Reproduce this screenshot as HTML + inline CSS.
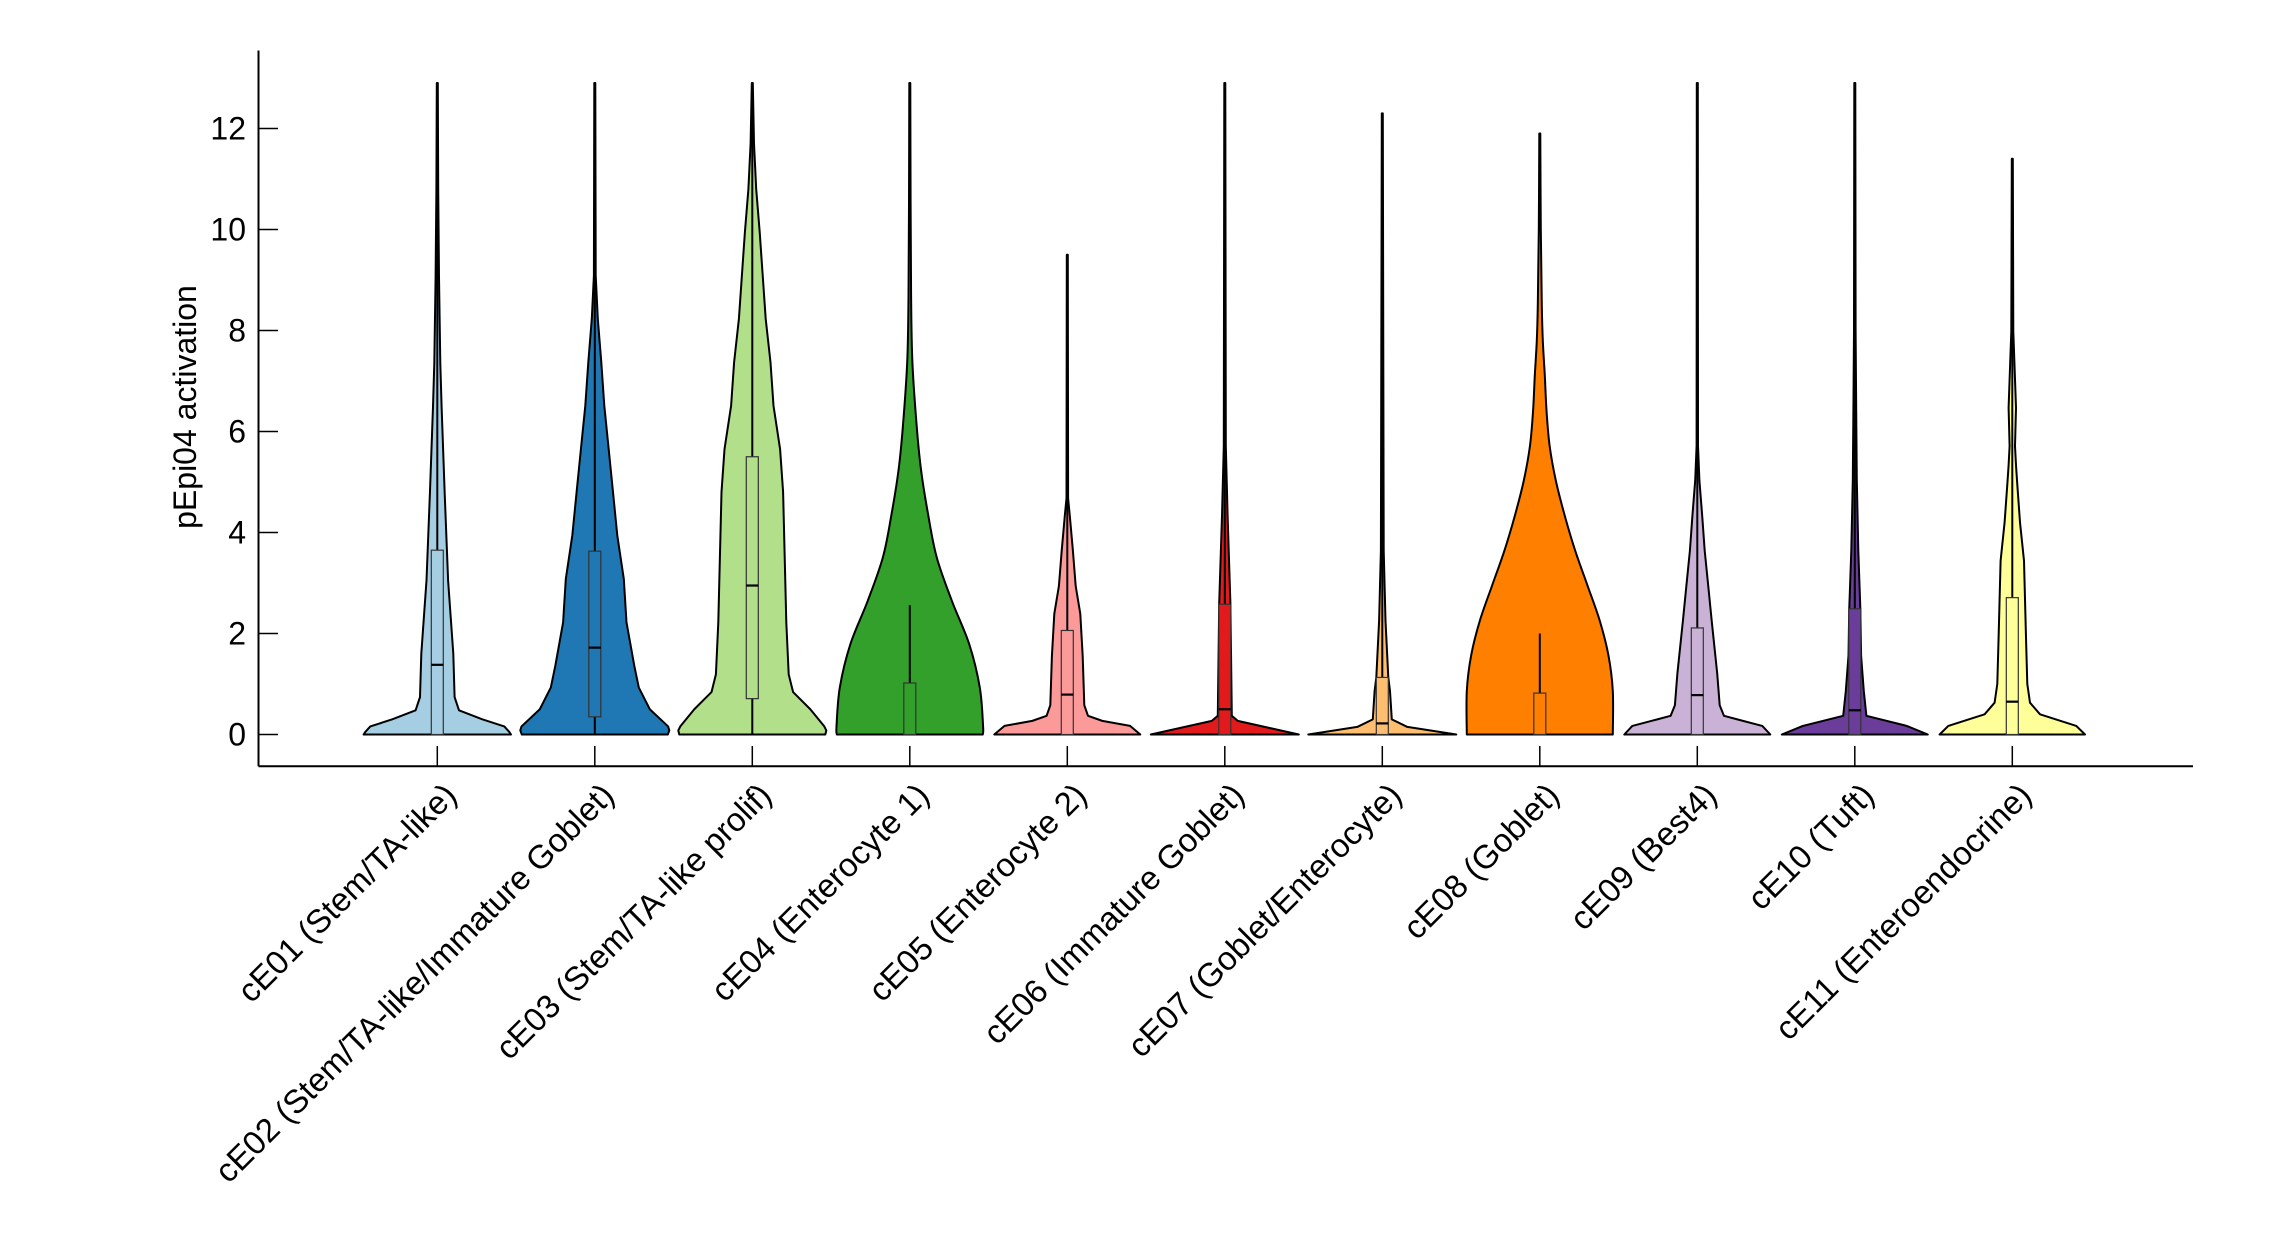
<!DOCTYPE html>
<html><head><meta charset="utf-8"><style>
html,body{margin:0;padding:0;background:#fff;}
svg{display:block;font-family:"Liberation Sans",Arial,sans-serif;}
</style></head><body>
<svg id="s" width="2292" height="1250" viewBox="0 0 2292 1250" xmlns="http://www.w3.org/2000/svg">
<rect width="2292" height="1250" fill="#fff"/>
<g id="v"></g>
<g stroke="#000" stroke-width="2" fill="none">
<line x1="258.5" y1="50.5" x2="258.5" y2="766.3"/>
<line x1="258.5" y1="766.3" x2="2193" y2="766.3"/>
</g>
<g id="ax"></g>
<text x="0" y="0" font-size="32" text-anchor="middle" transform="translate(196,407) rotate(-90)">pEpi04 activation</text>
</svg>
<script>
var NS="http://www.w3.org/2000/svg";
function Y(v){return 734.5-v*50.5;}
var cols=["#a6cee3","#1f78b4","#b2df8a","#33a02c","#fb9a99","#e31a1c","#fdbf6f","#ff7f00","#cab2d6","#6a3d9a","#ffff99"];
var names=["cE01 (Stem/TA-like)","cE02 (Stem/TA-like/Immature Goblet)","cE03 (Stem/TA-like prolif)","cE04 (Enterocyte 1)","cE05 (Enterocyte 2)","cE06 (Immature Goblet)","cE07 (Goblet/Enterocyte)","cE08 (Goblet)","cE09 (Best4)","cE10 (Tuft)","cE11 (Enteroendocrine)"];
var prof=[
[[0,73.7],[0.05,72],[0.16,67],[0.3,45],[0.48,21.7],[0.74,17.3],[1.6,16],[3.05,10.8],[4.77,7.4],[6.49,4.3],[7.35,3],[9.06,1.7],[10.8,0.9],[12.9,0.5]],
[[0,73],[0.08,74.5],[0.16,73.3],[0.5,55],[0.93,44],[1.36,39.5],[2.22,31.7],[3.08,29],[3.94,22.5],[4.8,18.2],[5.65,13.9],[6.51,9.5],[7.37,6.5],[8.23,3],[9.09,0.9],[12.9,0.5]],
[[0,73],[0.08,74],[0.16,72],[0.5,58],[0.84,40.8],[1.19,36.4],[2.22,34],[4.8,30.8],[5.65,27.8],[6.51,21.2],[7.37,18.2],[8.23,13.4],[9.09,10.4],[9.95,7.4],[10.8,3.9],[11.7,1.7],[12.9,0.5]],
[[0,73],[0.16,73.3],[0.93,70],[1.79,59.4],[2.65,42],[3.51,26.9],[4.37,18.2],[5.23,11.3],[6.08,7],[7.37,2.6],[8.66,1.3],[10.5,0.8],[12.9,0.5]],
[[0,73],[0.17,62.8],[0.27,35],[0.37,20.7],[0.58,17],[1.55,15.4],[2.39,13],[2.94,8.4],[3.64,5.6],[4.33,2.5],[4.68,0.8],[9.5,0.5]],
[[0,74],[0.27,13],[0.37,7],[2.6,5.6],[4.33,2.8],[5.72,1],[12.9,0.5]],
[[0,74],[0.15,25],[0.3,9.5],[0.86,7.7],[1.13,6],[2.25,3.2],[3.64,1.4],[12.3,0.5]],
[[0,73],[0.86,73],[1.56,68.7],[2.25,60],[2.95,47.7],[3.64,35.4],[4.33,25],[5.03,16],[5.72,9.8],[6.42,6.7],[7.11,5],[7.8,3],[8.5,2],[10,1],[11.9,0.5]],
[[0,73],[0.17,65],[0.3,40],[0.37,26.7],[0.58,22.4],[1.21,19.9],[2.25,14.4],[2.95,10.9],[3.64,7.4],[4.33,4.9],[5.03,2.1],[5.72,0.7],[12.9,0.5]],
[[0,73],[0.17,52],[0.37,11.6],[0.86,9],[1.56,6.3],[2.46,5.6],[3.64,3.5],[5.03,2],[6.42,1.4],[8,0.8],[12.9,0.5]],
[[0,72.7],[0.17,64],[0.4,27.7],[0.63,17.7],[1.0,15],[1.92,13.7],[2.68,12.7],[3.44,11.7],[4.2,7.7],[4.95,5],[5.33,3.7],[5.71,2.7],[6.47,3.7],[7.98,1],[11.4,0.5]]
];
var smooth=[false,false,false,true,false,false,false,true,false,false,false];
var box=[[0,3.65,1.38,12.9],[0.35,3.63,1.72,12.9],[0.71,5.5,2.95,12.9],[0,1.02,null,2.56],[0,2.06,0.79,9.5],[0,2.58,0.5,12.9],[0,1.13,0.22,12.3],[0,0.82,null,2.0],[0,2.11,0.78,12.9],[0,2.49,0.48,12.9],[0,2.71,0.65,11.4]];
function crPath(pts){
  var d="M"+pts[0][0]+","+pts[0][1];
  for(var i=0;i<pts.length-1;i++){
    var p0=pts[i-1]||pts[i],p1=pts[i],p2=pts[i+1],p3=pts[i+2]||p2;
    var c1=[p1[0]+(p2[0]-p0[0])/6,p1[1]+(p2[1]-p0[1])/6];
    var c2=[p2[0]-(p3[0]-p1[0])/6,p2[1]-(p3[1]-p1[1])/6];
    d+=" C"+c1[0].toFixed(2)+","+c1[1].toFixed(2)+" "+c2[0].toFixed(2)+","+c2[1].toFixed(2)+" "+p2[0].toFixed(2)+","+p2[1].toFixed(2);
  }
  return d;
}
function el(n,a,p){var e=document.createElementNS(NS,n);for(var k in a)e.setAttribute(k,a[k]);(p||document.getElementById("v")).appendChild(e);return e;}
var ax=document.getElementById("ax");
for(var i=0;i<11;i++){
  var cx=437.3+i*157.5,p=prof[i];
  var right=p.map(function(q){return [cx+q[1],Y(q[0])];});
  var left=p.slice().reverse().map(function(q){return [cx-q[1],Y(q[0])];});
  var d;
  if(smooth[i]){
    d=crPath(right);
    var l=crPath(left);
    d+=" L"+l.substring(1)+" Z";
  } else {
    d="M"+right.map(function(q){return q[0].toFixed(2)+","+q[1].toFixed(2);}).join(" L")+" L"+left.map(function(q){return q[0].toFixed(2)+","+q[1].toFixed(2);}).join(" L")+" Z";
  }
  el("path",{d:d,fill:cols[i],stroke:"#000","stroke-width":"2","stroke-linejoin":"round"});
  var b=box[i];
  el("line",{x1:cx,y1:Y(b[1]),x2:cx,y2:Y(b[3]),stroke:"#000","stroke-width":"2"});
  if(b[0]>0) el("line",{x1:cx,y1:Y(0),x2:cx,y2:Y(b[0]),stroke:"#000","stroke-width":"2"});
  el("rect",{x:cx-6,y:Y(b[1]),width:12,height:Y(b[0])-Y(b[1]),fill:cols[i],stroke:"#333","stroke-width":"1.2"});
  if(b[2]!==null) el("line",{x1:cx-6,y1:Y(b[2]),x2:cx+6,y2:Y(b[2]),stroke:"#000","stroke-width":"2.2"});
  el("line",{x1:cx,y1:746,x2:cx,y2:766,stroke:"#000","stroke-width":"1.5"},ax);
  var t=el("text",{"font-size":"33","text-anchor":"end","dominant-baseline":"middle",transform:"translate("+(cx+15)+",791) rotate(-45)"},ax);
  t.textContent=names[i];
}
for(var v=0;v<=12;v+=2){
  var y=Y(v);
  el("line",{x1:258.5,y1:y,x2:278,y2:y,stroke:"#000","stroke-width":"1.5"},ax);
  var t=el("text",{x:246,y:y+11,"font-size":"32","text-anchor":"end"},ax);
  t.textContent=v;
}
</script>
</body></html>
